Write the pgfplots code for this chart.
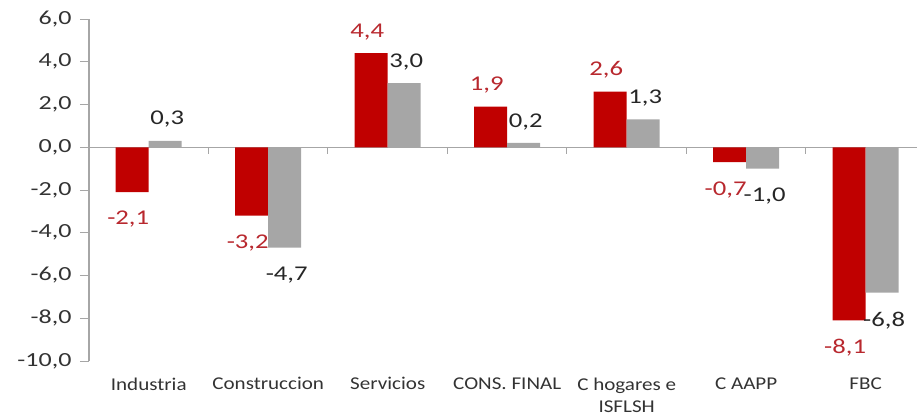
\documentclass[border=0pt]{standalone}
\usepackage{pgfplots}
\pgfplotsset{compat=1.18}
\usepackage{fontspec}
\setmainfont{Carlito}
\newfontfamily\tickfont[FakeStretch=1.3]{Carlito}
\newfontfamily\datafont[FakeStretch=1.27]{Carlito}
\newfontfamily\catfont[FakeStretch=1.17]{Carlito}
\definecolor{barred}{HTML}{C00000}
\definecolor{bargray}{HTML}{A6A6A6}
\definecolor{labred}{HTML}{B8282E}
\definecolor{labdark}{HTML}{262626}
\definecolor{axgray}{HTML}{A6A6A6}
\definecolor{ticktext}{HTML}{333333}
\begin{document}
\begin{tikzpicture}
\begin{axis}[
  scale only axis, width=828pt, height=342pt,
  xmin=-0.5, xmax=6.43, ymin=-10, ymax=6,
  ybar=0pt, bar width=33pt,
  axis x line*=bottom, axis y line*=left,
  axis line style={-},
  x axis line style={draw=none},
  y axis line style={axgray, line width=1.2pt},
  xtick={0,1,2,3,4,5,6},
  xticklabels={Industria,Construccion,Servicios,CONS. FINAL,{C hogares e\\ISFLSH},C AAPP,FBC},
  x tick style={draw=none},
  ytick={-10,-8,-6,-4,-2,0,2,4,6},
  y tick style={axgray, line width=1pt},
  tick align=outside, major tick length=9pt,
  yticklabel style={font=\tickfont\fontsize{20}{20}\selectfont, text=ticktext, xshift=-5pt},
  xticklabel style={font=\catfont\fontsize{18}{22}\selectfont, text=ticktext, align=center, yshift=-4pt},
  /pgf/number format/.cd, fixed, fixed zerofill, precision=1, use comma, assume math mode=true,
  /pgfplots/.cd,
  clip=false,
  nodes near coords, nodes near coords align=vertical,
  visualization depends on={y \as \rawy},
  every node near coord/.append style={font=\datafont\fontsize{21}{21}\selectfont, inner sep=13pt, yshift={-6*(\rawy<0)}},
]
\draw[axgray, line width=1.2pt] (axis cs:-0.5,0) -- (axis cs:6.43,0);
\pgfplotsinvokeforeach{0.5,1.5,2.5,3.5,4.5,5.5}{
  \draw[axgray, line width=1pt] (axis cs:#1,0) -- ++(0pt,-7pt);
}
\addplot[fill=barred, draw=none, every node near coord/.append style={text=labred, xshift=-4pt}]
  coordinates {(0,-2.1) (1,-3.2) (2,4.4) (3,1.9) (4,2.6) (5,-0.7) (6,-8.1)};
\addplot[fill=bargray, draw=none, every node near coord/.append style={text=labdark, xshift=2pt}]
  coordinates {(0,0.3) (1,-4.7) (2,3.0) (3,0.2) (4,1.3) (5,-1.0) (6,-6.8)};
\end{axis}
\pgfresetboundingbox
\useasboundingbox (current axis.south west) ++(-89pt,-55pt) rectangle ++(917pt,416pt);
\end{tikzpicture}
\end{document}
